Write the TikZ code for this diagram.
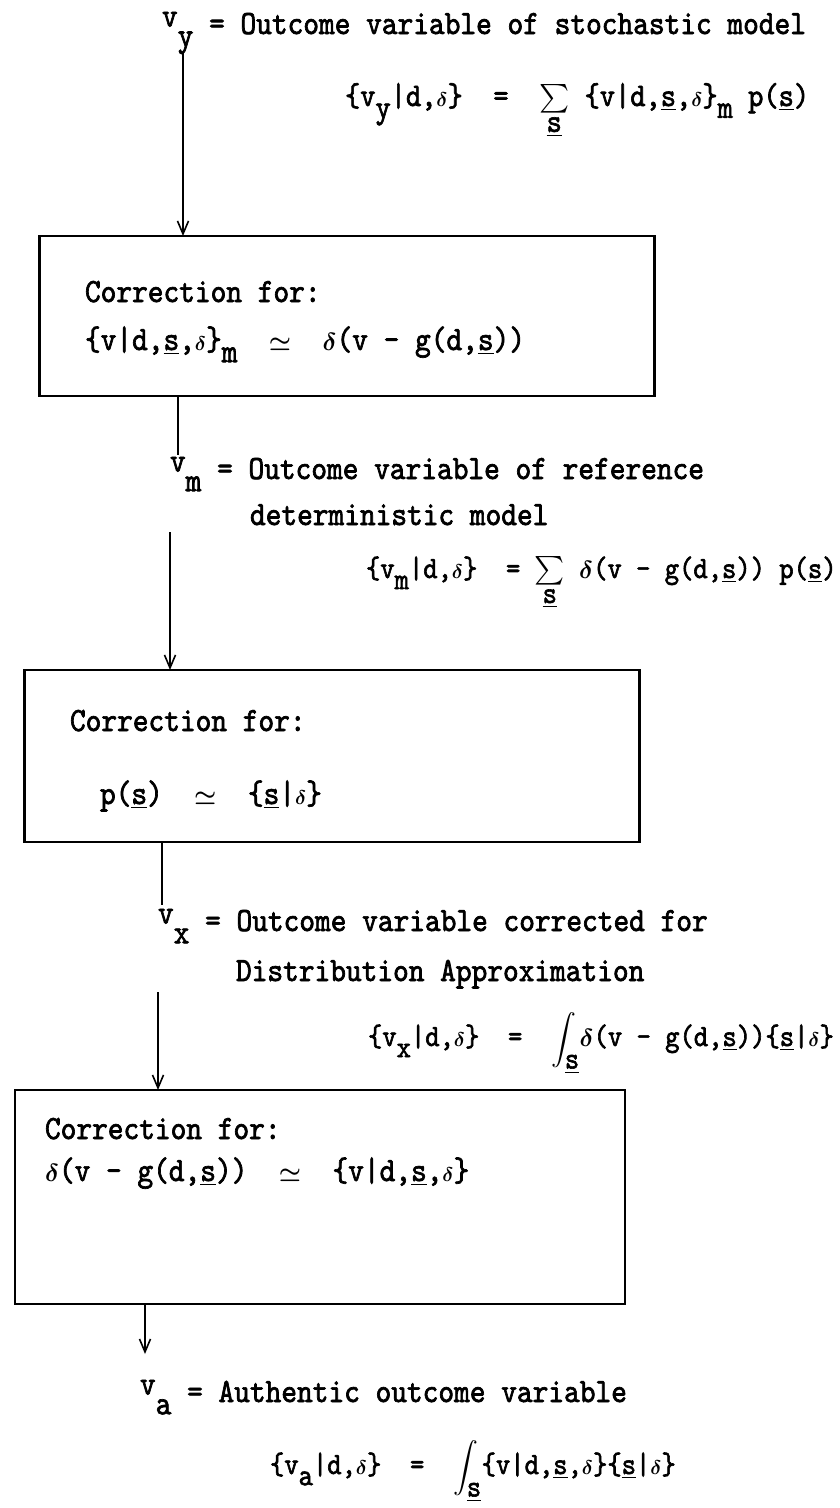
\documentclass[tikz,border=0pt]{standalone}
\usepackage{fontspec}
\usepackage{amsmath}
\usepackage{graphicx}
\setmainfont{lmmono10-regular.otf}[FakeStretch=0.88,FakeBold=2]
\usetikzlibrary{arrows.meta}
\newcommand{\us}{\underline{s}}
\newcommand{\lo}[1]{\raisebox{-0.36em}{#1}}
\newcommand{\hi}[1]{\raisebox{0.22em}{#1}}
\newcommand{\dl}{\ensuremath{\boldsymbol{\delta}}}
\newcommand{\sdl}{\scalebox{0.8}{\ensuremath{\boldsymbol{\delta}}}}
\newcommand{\SUM}{\ensuremath{\mathop{\scalebox{1.15}{$\textstyle\sum$}}\limits_{\mbox{\us}}}}
\newcommand{\INT}{\ensuremath{\displaystyle\int_{\mbox{\us}}}}
\newcommand{\apx}{\ensuremath{\boldsymbol{\simeq}}}
\begin{document}
\begin{tikzpicture}[x=1pt,y=-1pt,
  every node/.style={inner sep=0pt,outer sep=0pt,font=\fontsize{34}{40}\selectfont},
  lbl/.style={anchor=base west},
  fml/.style={anchor=base west,font=\fontsize{31}{36}\selectfont},
  fmlb/.style={anchor=base west,font=\fontsize{33}{38}\selectfont},
  boxst/.style={draw,line width=2.8pt,rectangle},
  arr/.style={line width=1.8pt,-{Straight Barb[length=13pt,width=11pt,line width=1.6pt]}},
  ln/.style={line width=1.8pt}]
\useasboundingbox (0,0) rectangle (840,1508);
% level 1
\node[lbl] (vy) at (162,34) {\hi{v}\lo{y} = Outcome variable of stochastic model};
\node[fmlb] (f1) at (345,106) {\{v\lo{y}|d,\sdl\}~~=~~\SUM~\{v|d,\us,\sdl\}\lo{m}~p(\us)};
\coordinate (s1) at (183,52);
\node[boxst,minimum width=615pt,minimum height=160pt] (b1) at (347,316) {};
\node[lbl] (c1) at (85,302) {Correction for:};
\node[lbl] (e1) at (85,350) {\{v|d,\us,\sdl\}\lo{m}~~\apx~~\dl(v - g(d,\us))};
\draw[arr] (s1) -- (s1 |- b1.north);
% level 2
\coordinate (t2) at (178,455);
\draw[ln] (t2 |- b1.south) -- (t2);
\node[lbl] (vm) at (170,479) {\hi{v}\lo{m} = Outcome variable of reference};
\node[lbl] (vm2) at (250,525) {deterministic model};
\node[fml] (f2) at (366,578) {\{v\lo{m}|d,\sdl\}~~=~\SUM~\dl(v - g(d,\us))~p(\us)};
\coordinate (s2) at (170,532);
\node[boxst,minimum width=615pt,minimum height=172pt] (b2) at (332,756) {};
\node[lbl] (c2) at (70,731) {Correction for:};
\node[lbl] (e2) at (100,804) {p(\us)~~\apx~~\{\us|\sdl\}};
\draw[arr] (s2) -- (s2 |- b2.north);
% level 3
\coordinate (t3) at (162,905);
\draw[ln] (t3 |- b2.south) -- (t3);
\node[lbl] (vx) at (158,931) {\hi{v}\lo{x} = Outcome variable corrected for};
\node[lbl] (vx2) at (236,981) {Distribution Approximation};
\node[fml] (f3) at (368,1046) {\{v\lo{x}|d,\sdl\}~~=~~\INT\dl(v - g(d,\us))\{\us|\sdl\}};
\coordinate (s3) at (158,992);
\node[boxst,minimum width=610pt,minimum height=214pt] (b3) at (320,1197) {};
\node[lbl] (c3) at (45,1139) {Correction for:};
\node[lbl] (e3) at (45,1181) {\dl(v - g(d,\us))~~\apx~~\{v|d,\us,\sdl\}};
\draw[arr] (s3) -- (s3 |- b3.north);
% level 4
\coordinate (t4) at (145,1354);
\draw[arr] (t4 |- b3.south) -- (t4);
\node[lbl] (va) at (140,1402) {\hi{v}\lo{a} = Authentic outcome variable};
\node[fml] (f4) at (270,1474) {\{v\lo{a}|d,\sdl\}~~=~~\INT\{v|d,\us,\sdl\}\{\us|\sdl\}};
\end{tikzpicture}
\end{document}
